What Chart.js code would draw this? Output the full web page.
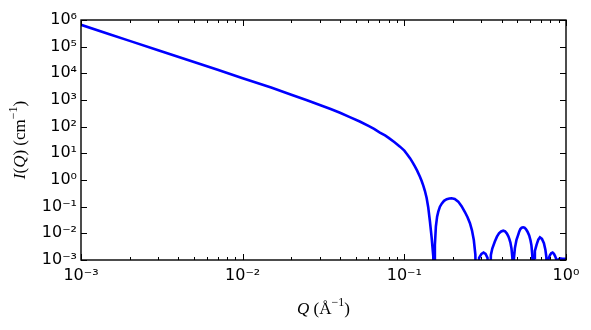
<!DOCTYPE html>
<html><head><meta charset="utf-8">
<script src="https://cdn.jsdelivr.net/npm/chart.js@4/dist/chart.umd.min.js"></script>
<style>html,body{margin:0;padding:0;background:#fff;}#wrap{width:591px;height:330px;position:relative;}</style>
</head><body><div id="wrap"><canvas id="c" width="591" height="330"></canvas></div>
<script>
// Q (1/Å) and I(Q) (1/cm) (1e-6 marks the deep minima below the axis)
const qValues = [0.001,0.0015,0.002,0.003,0.005,0.007,0.01,0.015,0.02,0.025,0.03,0.035,0.04,0.046,0.053,0.06,0.065,0.0706,0.076,0.08,0.087,0.094,0.1,0.104,0.1084,0.112,0.116,0.12,0.1249,0.128,0.131,0.134,0.1374,0.1405,0.1439,0.1475,0.15,0.151,0.1527,
 0.1545,0.1567,0.1595,0.1622,0.166,0.1703,0.176,0.1829,0.19,0.196,0.205,0.2155,0.226,0.237,0.246,0.2546,0.262,0.269,0.275,0.281,
 0.29,0.3,0.309,0.318,0.327,0.335,
 0.343,0.35,0.363,0.374,0.385,0.397,0.409,0.42,0.431,0.44,0.446,0.453,0.46,0.466,0.471,
 0.476,0.483,0.494,0.506,0.514,0.522,0.532,0.543,0.554,0.565,0.578,0.592,0.603,0.611,0.619,0.627,
 0.634,0.642,0.658,0.674,0.69,0.71,0.73,0.745,0.756,0.766,
 0.78,0.795,0.81,0.826,0.842,0.856,0.87,0.883,
 0.9,0.917,0.95,1.0];
const intensityValues = [6.6e5,2.93e5,1.65e5,7.3e4,2.64e4,1.35e4,6.6e3,2.93e3,1585,975,652,457,331,229,156,107,82.8,60.3,46.8,37.9,25.9,17.8,12.6,9.3,6.6,4.8,3.3,2.24,1.33,0.92,0.62,0.395,0.211,0.0955,0.029,0.0071,0.0022,0.0014,1e-6,
 0.0036,0.0178,0.042,0.065,0.1,0.13,0.165,0.19,0.203,0.206,0.195,0.155,0.105,0.063,0.04,0.024,0.013,0.0056,0.0016,1e-6,
 0.0012,0.0017,0.0019,0.0017,0.0012,1e-6,
 0.00155,0.0027,0.0049,0.0075,0.01,0.0118,0.0126,0.0118,0.0098,0.0077,0.0062,0.0045,0.0027,0.0012,1e-6,
 0.0011,0.0028,0.0057,0.0088,0.0118,0.0145,0.0162,0.0168,0.0162,0.0145,0.0115,0.0083,0.0055,0.0036,0.0015,1e-6,
 0.0012,0.0022,0.0038,0.0058,0.0071,0.0062,0.0043,0.0025,0.0013,1e-6,
 0.0011,0.0015,0.0018,0.0019,0.0017,0.0014,0.0011,1e-6,
 0.00105,0.00115,0.0011,0.0011];
const xTickValues = [1e-3,1e-2,1e-1,1];
const xTickLabels = ['10\u207B\u00B3','10\u207B\u00B2','10\u207B\u00B9','10\u2070'];
const yTickValues = [1e-3,1e-2,1e-1,1,1e1,1e2,1e3,1e4,1e5,1e6];
const yTickLabels = ['10\u207B\u00B3','10\u207B\u00B2','10\u207B\u00B9','10\u2070','10\u00B9','10\u00B2','10\u00B3','10\u2074','10\u2075','10\u2076'];
// axis titles: [text, style] with i = italic, n = upright, s = superscript
const xTitleParts = [['Q','i'],[' ','n'],['(','n'],['\u00C5','n'],['\u2212','s'],['1','s'],[')','n']];
const yTitleParts = [['I','i'],['(','n'],['Q','i'],[')','n'],[' ','n'],['(cm','n'],['\u2212','s'],['1','s'],[')','n']];

const TITLE_FONT = 'Liberation Serif';
const TITLE_SIZE = 17;
function partFont(st) {
  if (st === 'i') return `italic ${TITLE_SIZE}px "${TITLE_FONT}"`;
  if (st === 's') return `${Math.round(TITLE_SIZE * 0.7)}px "${TITLE_FONT}"`;
  return `${TITLE_SIZE}px "${TITLE_FONT}"`;
}
function drawParts(ctx, parts, cx, cy, rot) {
  ctx.save();
  ctx.translate(cx, cy);
  ctx.rotate(rot);
  let total = 0;
  const widths = parts.map(([t, st]) => { ctx.font = partFont(st); const w = ctx.measureText(t).width; total += w; return w; });
  let x = -total / 2;
  ctx.fillStyle = '#000';
  ctx.textBaseline = 'alphabetic';
  ctx.textAlign = 'left';
  const base = TITLE_SIZE * 0.33;
  parts.forEach(([t, st], i) => {
    ctx.font = partFont(st);
    ctx.fillText(t, x, st === 's' ? base - TITLE_SIZE * 0.42 : base);
    x += widths[i];
  });
  ctx.restore();
}

const frameTicks = {
  id: 'frameTicks',
  afterDraw(chart) {
    const {ctx, chartArea: a, scales: {x, y}} = chart;
    ctx.save();
    ctx.strokeStyle = '#000';
    ctx.lineWidth = 1;
    const minors = [];
    for (let k = -3; k < 0; k++) for (let m = 2; m <= 9; m++) minors.push(m * Math.pow(10, k));
    ctx.beginPath();
    minors.forEach(v => {
      const px = Math.round(x.getPixelForValue(v)) + 0.5;
      ctx.moveTo(px, a.bottom); ctx.lineTo(px, a.bottom - 3);
      ctx.moveTo(px, a.top); ctx.lineTo(px, a.top + 3);
    });
    xTickValues.forEach(v => {
      const px = Math.round(x.getPixelForValue(v)) + 0.5;
      ctx.moveTo(px, a.bottom); ctx.lineTo(px, a.bottom - 6);
      ctx.moveTo(px, a.top); ctx.lineTo(px, a.top + 6);
    });
    yTickValues.forEach(v => {
      const py = Math.round(y.getPixelForValue(v)) + 0.5;
      ctx.moveTo(a.left, py); ctx.lineTo(a.left + 6, py);
      ctx.moveTo(a.right, py); ctx.lineTo(a.right - 6, py);
    });
    ctx.stroke();
    ctx.lineWidth = 1.4;
    ctx.strokeRect(a.left, a.top, a.right - a.left, a.bottom - a.top);
    ctx.restore();
    drawParts(ctx, xTitleParts, (a.left + a.right) / 2, 308, 0);
    drawParts(ctx, yTitleParts, 19, (a.top + a.bottom) / 2, -Math.PI / 2);
  }
};

new Chart(document.getElementById('c'), {
  type: 'line',
  data: {
    datasets: [{
      data: qValues.map((q, i) => ({x: q, y: intensityValues[i]})),
      borderColor: '#0000ff',
      borderWidth: 2.6,
      pointRadius: 0,
      fill: false,
      tension: 0,
      clip: 0
    }]
  },
  options: {
    responsive: false,
    animation: false,
    devicePixelRatio: 1,
    layout: {padding: {left: 0, top: 20, right: 25, bottom: 0}},
    plugins: {legend: {display: false}, tooltip: {enabled: false}},
    scales: {
      x: {
        type: 'logarithmic', min: 1e-3, max: 1,
        grid: {display: false, drawTicks: false},
        border: {display: false},
        afterBuildTicks: s => { s.ticks = xTickValues.map(v => ({value: v})); },
        afterFit: s => { s.height = 70; },
        ticks: {autoSkip: false, maxRotation: 0, padding: 6, color: '#000',
          font: {family: 'DejaVu Sans', size: 16},
          callback: (v, i) => xTickLabels[i]}
      },
      y: {
        type: 'logarithmic', min: 1e-3, max: 1e6,
        grid: {display: false, drawTicks: false},
        border: {display: false},
        afterBuildTicks: s => { s.ticks = yTickValues.map(v => ({value: v})); },
        afterFit: s => { s.width = 81; },
        ticks: {autoSkip: false, padding: 4, color: '#000',
          font: {family: 'DejaVu Sans', size: 16},
          callback: (v, i) => yTickLabels[i]}
      }
    }
  },
  plugins: [frameTicks]
});
</script></body></html>
